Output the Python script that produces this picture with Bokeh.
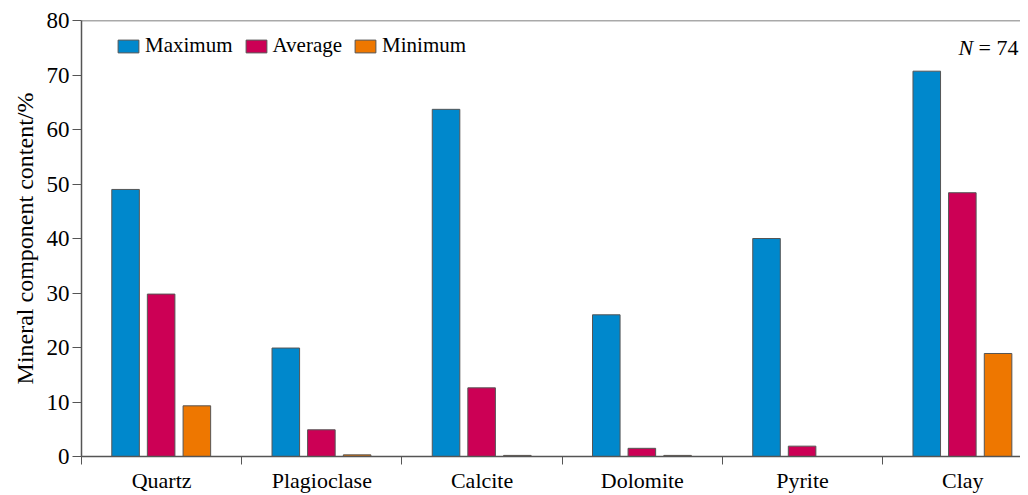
from bokeh.plotting import figure
from bokeh.models import ColumnDataSource, FixedTicker, Range1d, Legend, LegendItem, Label, Span
from bokeh.transform import dodge
from bokeh.embed import file_html
from bokeh.resources import INLINE
import numpy as np

categories = ["Quartz", "Plagioclase", "Calcite", "Dolomite", "Pyrite", "Clay"]
maximum = [49.0, 19.9, 63.7, 26.0, 40.0, 70.7]
average = [29.8, 4.9, 12.6, 1.5, 1.9, 48.4]
minimum = [9.3, 0.3, 0.2, 0.2, 0.0, 18.9]

FONT = "serif"
centers = list(np.arange(len(categories)) + 0.5)
src = ColumnDataSource(dict(x=centers, mx=maximum, av=average, mn=minimum))

p = figure(width=1020, height=495, output_backend="svg", toolbar_location=None,
           x_range=Range1d(0, 5.86), y_range=Range1d(0, 80),
           min_border_left=81, min_border_top=20, min_border_right=0, min_border_bottom=0)
p.outline_line_color = None
p.xgrid.visible = False
p.ygrid.visible = False

bw = 0.172
r1 = p.vbar(x=dodge("x", -0.225, range=p.x_range), top="mx", width=bw, source=src,
            fill_color="#0088CC", line_color="#555555", line_width=1)
r2 = p.vbar(x=dodge("x", -0.003, range=p.x_range), top="av", width=bw, source=src,
            fill_color="#CC0055", line_color="#555555", line_width=1)
r3 = p.vbar(x=dodge("x", 0.22, range=p.x_range), top="mn", width=bw, source=src,
            fill_color="#EE7700", line_color="#555555", line_width=1)

p.add_layout(Span(location=80, dimension="width", line_color="#555555", line_width=1.5))

# x axis
p.xaxis.ticker = FixedTicker(ticks=centers, minor_ticks=list(range(0, 7)))
p.xaxis.major_label_overrides = {c: n for c, n in zip(centers, categories)}
p.xaxis.major_tick_out = 0
p.xaxis.major_tick_in = 0
p.xaxis.minor_tick_out = 8
p.xaxis.minor_tick_in = 0
p.xaxis.minor_tick_line_color = "#555555"
p.xaxis.axis_line_color = "#555555"
p.xaxis.axis_line_width = 1.5
p.xaxis.major_label_text_font = FONT
p.xaxis.major_label_text_font_size = "22px"
p.xaxis.major_label_text_color = "black"
p.xaxis.major_label_standoff = 3
p.xaxis.axis_label_standoff = 0

# y axis
p.yaxis.ticker = FixedTicker(ticks=list(range(0, 81, 10)))
p.yaxis.major_tick_out = 9
p.yaxis.major_tick_in = 0
p.yaxis.minor_tick_out = 0
p.yaxis.minor_tick_in = 0
p.yaxis.major_tick_line_color = "#555555"
p.yaxis.axis_line_color = "#555555"
p.yaxis.axis_line_width = 1.5
p.yaxis.major_label_text_font = FONT
p.yaxis.major_label_text_font_size = "23px"
p.yaxis.major_label_text_color = "black"
p.yaxis.major_label_standoff = 3
p.yaxis.axis_label = "Mineral component content/%"
p.yaxis.axis_label_text_font = FONT
p.yaxis.axis_label_text_font_size = "24px"
p.yaxis.axis_label_text_font_style = "normal"
p.yaxis.axis_label_text_color = "black"
p.yaxis.axis_label_standoff = 6

legend = Legend(items=[LegendItem(label="Maximum", renderers=[r1]),
                       LegendItem(label="Average", renderers=[r2]),
                       LegendItem(label="Minimum", renderers=[r3])],
                orientation="horizontal", location=(34, 398),
                glyph_width=26, glyph_height=16, label_standoff=4, spacing=10,
                padding=0, margin=0, border_line_color=None, background_fill_alpha=0,
                label_text_font=FONT, label_text_font_size="21px", label_text_color="black")
p.add_layout(legend, "center")

p.add_layout(Label(x=877, y=397, x_units="screen", y_units="screen", text="N",
                   text_font=FONT, text_font_size="22px", text_font_style="italic",
                   text_color="black"))
p.add_layout(Label(x=897, y=397, x_units="screen", y_units="screen", text="= 74",
                   text_font=FONT, text_font_size="22px", text_color="black"))

open("out.html", "w").write(file_html(p, INLINE))
